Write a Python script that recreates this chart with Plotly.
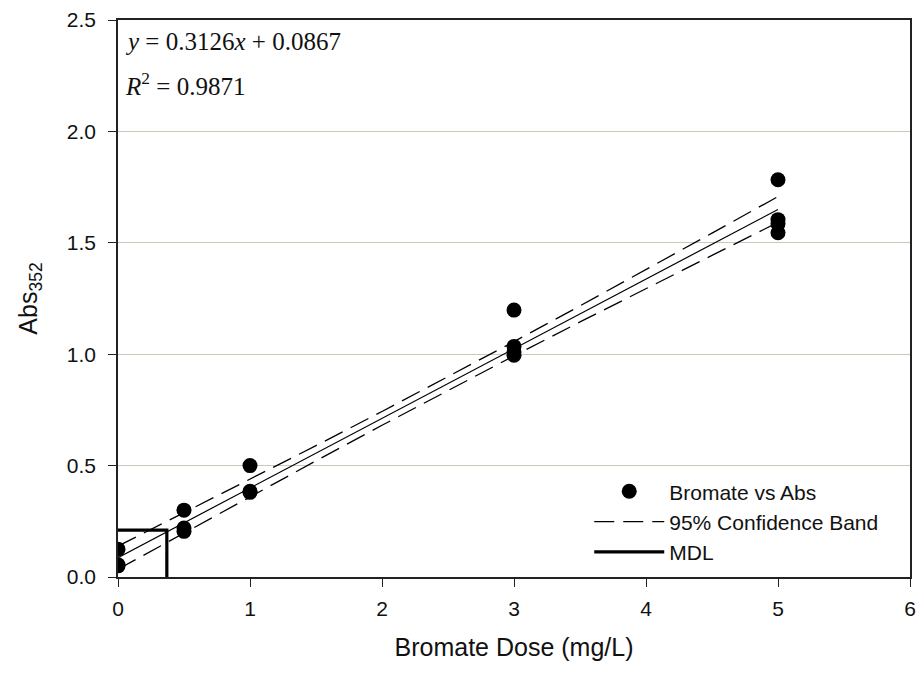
import plotly.graph_objects as go

# Data points (Bromate dose vs absorbance)
dose = [0, 0, 0, 0.5, 0.5, 0.5, 1, 1, 1, 3, 3, 3, 3, 5, 5, 5, 5]
absorb = [0.125, 0.055, 0.05, 0.30, 0.22, 0.205, 0.50, 0.385, 0.38,
          1.198, 1.035, 1.01, 0.995, 1.783, 1.604, 1.585, 1.545]

# Regression coefficients
slope = 0.3126
intercept = 0.0867

# 95% confidence band (estimated half-widths)
band_x = [0, 0.5, 1, 1.5, 2, 2.5, 3, 3.5, 4, 4.5, 5]
band_half = [0.052, 0.045, 0.039, 0.034, 0.031, 0.030, 0.032, 0.036, 0.042, 0.050, 0.058]

# MDL
mdl_x = 0.37
mdl_y = 0.21

fit_x = [0, 5]
fit_y = [slope * v + intercept for v in fit_x]
upper = [slope * v + intercept + h for v, h in zip(band_x, band_half)]
lower = [slope * v + intercept - h for v, h in zip(band_x, band_half)]

fig = go.Figure()
fig.add_trace(go.Scatter(x=dose, y=absorb, mode="markers", name="Bromate vs Abs",
                         marker=dict(color="black", size=15)))
fig.add_trace(go.Scatter(x=fit_x, y=fit_y, mode="lines", showlegend=False,
                         line=dict(color="black", width=1.2)))
fig.add_trace(go.Scatter(x=band_x, y=upper, mode="lines", name="95% Confidence Band",
                         legendgroup="band", line=dict(color="black", width=1.3, dash="20px,9px")))
fig.add_trace(go.Scatter(x=band_x, y=lower, mode="lines", showlegend=False,
                         legendgroup="band", line=dict(color="black", width=1.3, dash="20px,9px")))
fig.add_trace(go.Scatter(x=[0, mdl_x, mdl_x], y=[mdl_y, mdl_y, 0], mode="lines", name="MDL",
                         line=dict(color="black", width=3.2)))

fig.update_layout(
    width=924, height=674,
    margin=dict(l=118, r=8, t=19, b=97),
    plot_bgcolor="white", paper_bgcolor="white",
    font=dict(family="Liberation Sans, Arial, sans-serif", color="#111", size=21),
    showlegend=True,
    legend=dict(x=0.595, y=0.19, xanchor="left", yanchor="top", bgcolor="rgba(0,0,0,0)",
                font=dict(size=21), tracegroupgap=0, itemwidth=70),
    xaxis=dict(range=[0, 6], tickvals=[0, 1, 2, 3, 4, 5, 6], showgrid=False, zeroline=False,
               showline=True, linecolor="#222", linewidth=1.5, mirror=True,
               ticks="outside", ticklen=8, tickcolor="#222", ticklabelstandoff=4,
               title=dict(text="Bromate Dose (mg/L)", font=dict(size=25), standoff=20)),
    yaxis=dict(range=[0, 2.5], tickvals=[0, 0.5, 1.0, 1.5, 2.0, 2.5], tickformat=".1f",
               showgrid=True, gridcolor="#c9c9b9", gridwidth=1.3, zeroline=False,
               showline=True, linecolor="#222", linewidth=1.5, mirror=True,
               ticks="outside", ticklen=8, tickcolor="#222", ticklabelstandoff=8,
               title=dict(text="Abs<sub>352</sub>", font=dict(size=25), standoff=22)),
)

fig.add_annotation(x=0.006, y=0.99, xref="paper", yref="paper", xanchor="left", yanchor="top",
                   text="<i>y</i> = 0.3126<i>x</i> + 0.0867", showarrow=False,
                   font=dict(family="Liberation Serif, Times New Roman, serif", size=25, color="#111"))
fig.add_annotation(x=0.006, y=0.918, xref="paper", yref="paper", xanchor="left", yanchor="top",
                   text="<i>R</i><sup>2</sup> = 0.9871", showarrow=False,
                   font=dict(family="Liberation Serif, Times New Roman, serif", size=25, color="#111"))

fig.write_html("out.html")
